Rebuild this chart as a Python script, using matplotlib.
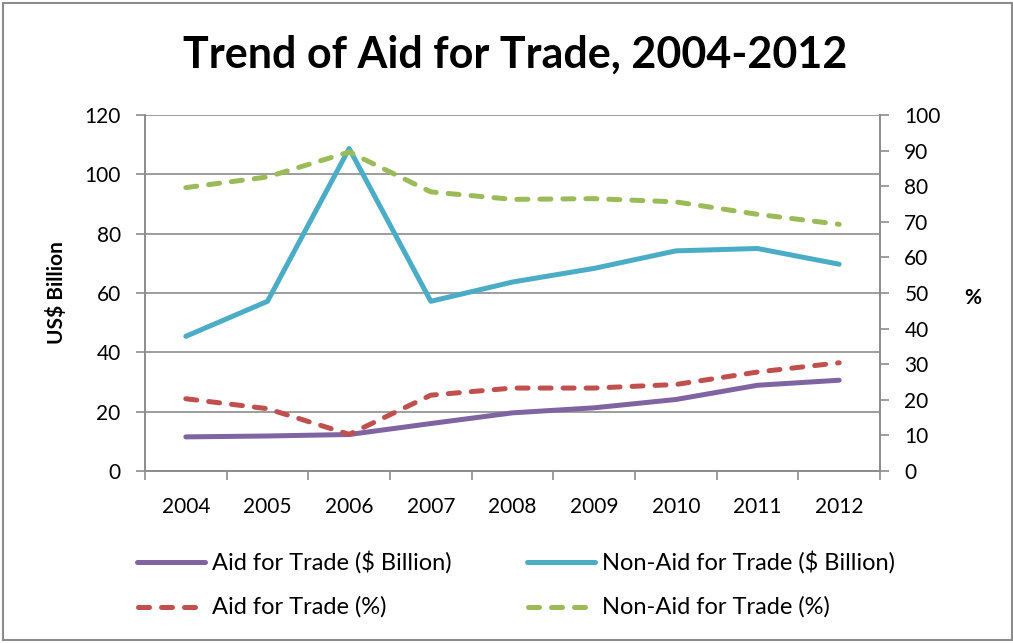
import matplotlib
matplotlib.use("Agg")
import matplotlib.pyplot as plt
from matplotlib.patches import Rectangle
from matplotlib.lines import Line2D

years = ["2004", "2005", "2006", "2007", "2008", "2009", "2010", "2011", "2012"]
aid_bn = [11.5, 11.8, 12.3, 16.0, 19.6, 21.3, 24.1, 28.9, 30.6]
nonaid_bn = [45.4, 57.2, 108.7, 57.2, 63.7, 68.3, 74.2, 75.0, 69.7]
aid_pct = [20.3, 17.5, 10.3, 21.3, 23.3, 23.3, 24.3, 27.8, 30.4]
nonaid_pct = [79.6, 82.6, 89.6, 78.4, 76.3, 76.5, 75.6, 72.1, 69.3]

plt.rcParams['font.family'] = ['Lato', 'DejaVu Sans']

W, H = 1013, 643
fig = plt.figure(figsize=(W / 100, H / 100), dpi=100)
ax = fig.add_axes([145 / W, 1 - 471 / H, (880 - 145) / W, (471 - 115) / H])
ax2 = ax.twinx()

gray = '#8c8c8c'
x = list(range(len(years)))
DASH = (2.2, 2.4)

l1, = ax.plot(x, aid_bn, color='#8064A2', lw=3.6, solid_capstyle='round', label='Aid for Trade ($ Billion)')
l2, = ax.plot(x, nonaid_bn, color='#4BACC6', lw=3.6, solid_capstyle='round', label='Non-Aid for Trade ($ Billion)')
l3, = ax2.plot(x, aid_pct, color='#C0504D', lw=3.6, dashes=DASH, dash_capstyle='round', label='Aid for Trade (%)')
l4, = ax2.plot(x, nonaid_pct, color='#9BBB59', lw=3.6, dashes=DASH, dash_capstyle='round', label='Non-Aid for Trade (%)')

ax.set_xlim(-0.5, len(years) - 0.5)
ax.set_ylim(0, 120)
ax.set_yticks(range(0, 121, 20))
ax2.set_ylim(0, 100)
ax2.set_yticks(range(0, 101, 10))
ax.set_xticks(x)
ax.set_xticklabels(years)
ax.set_xticks([i - 0.5 for i in range(len(years) + 1)], minor=True)
ax.tick_params(axis='x', which='major', length=0, pad=19, labelsize=15)
ax.tick_params(axis='x', which='minor', length=6.5, color=gray, width=1.2)
ax.tick_params(axis='y', length=6.5, color=gray, width=1.2, labelsize=15, pad=11)
ax2.tick_params(axis='y', length=6.5, color=gray, width=1.2, labelsize=15, pad=11)
ax.grid(axis='y', color=gray, lw=1.2)
ax.set_axisbelow(True)
for a in (ax, ax2):
    for s in a.spines.values():
        s.set_color(gray)
        s.set_linewidth(1.2)
ax.spines['top'].set_visible(False)
ax2.spines['top'].set_visible(False)

fig.text(56 / W, 1 - 293 / H, 'US$ Billion', fontsize=15, fontweight='bold', rotation=90, ha='center', va='center')
fig.text(973 / W, 1 - 298 / H, '%', fontsize=15, fontweight='bold', ha='center', va='center')
fig.text(515 / W, 1 - 55 / H, 'Trend of Aid for Trade, 2004-2012', fontsize=31, fontweight='bold', ha='center', va='center')

# legend laid out as in the reference (row-wise, two columns)
entries = [(l1, 135, 562), (l2, 525, 562), (l3, 135, 607), (l4, 525, 607)]
for line, x0, y0 in entries:
    yf = 1 - y0 / H
    dashed = line in (l3, l4)
    x_start = x0 + 2.5 if dashed else x0 + 2
    x_end = x_start + 57 if dashed else x0 + 70
    h = Line2D([x_start / W, x_end / W], [yf, yf], transform=fig.transFigure,
               color=line.get_color(), lw=3.6, solid_capstyle='round', dash_capstyle='round')
    if dashed:
        h.set_dashes(DASH)
    fig.lines.append(h)
    fig.text((x0 + 77) / W, yf, line.get_label(), fontsize=17, ha='left', va='center')

fig.patches.append(Rectangle((3 / W, 3 / H), 1 - 4 / W, 1 - 6 / H, transform=fig.transFigure,
                             fill=False, edgecolor=gray, lw=1.5))

fig.savefig('out.png', dpi=100, facecolor='white')
